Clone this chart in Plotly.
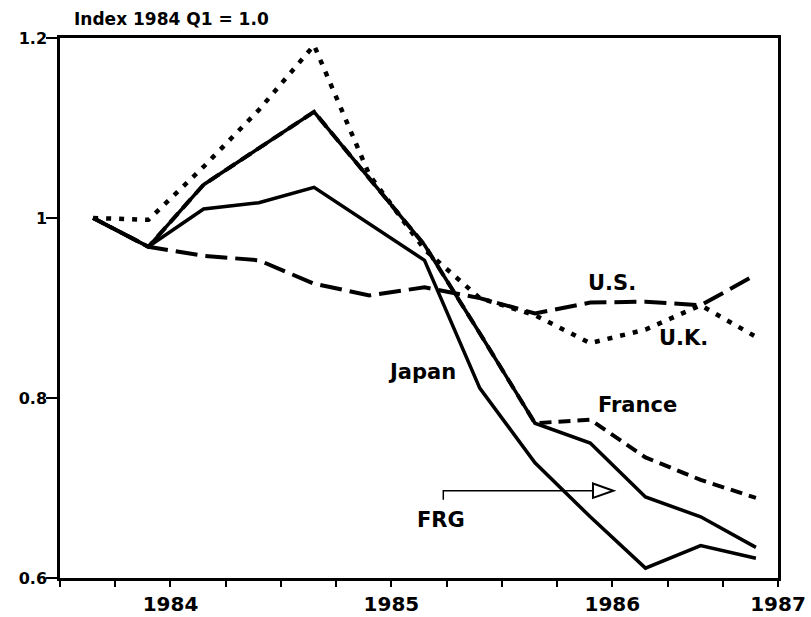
import plotly.graph_objects as go

# ---- data (index, 1984 Q1 = 1.0) ----
quarters = ["1984 Q1", "1984 Q2", "1984 Q3", "1984 Q4",
            "1985 Q1", "1985 Q2", "1985 Q3", "1985 Q4",
            "1986 Q1", "1986 Q2", "1986 Q3", "1986 Q4", "1987 Q1"]
us     = [1.000, 0.968, 0.958, 0.953, 0.927, 0.914, 0.923, 0.911, 0.894, 0.906, 0.907, 0.903, 0.937]
uk     = [1.000, 0.998, 1.057, 1.120, 1.192, 1.048, 0.965, 0.911, 0.892, 0.861, 0.876, 0.903, 0.868]
japan  = [1.000, 0.968, 1.010, 1.017, 1.034, 0.993, 0.953, 0.811, 0.728, 0.668, 0.611, 0.636, 0.622]
france = [1.000, 0.968, 1.037, 1.077, 1.118, 1.044, 0.970, 0.872, 0.772, 0.776, 0.734, 0.709, 0.689]
frg    = [1.000, 0.968, 1.037, 1.077, 1.118, 1.044, 0.970, 0.872, 0.772, 0.750, 0.690, 0.668, 0.634]

year_labels = ["1984", "1985", "1986", "1987"]
year_tick_index = [2, 6, 10, 13]          # which quarter boundary tick carries a year label
y_ticks = [0.6, 0.8, 1.0, 1.2]
y_tick_text = ["0.6", "0.8", "1", "1.2"]

x = list(range(len(quarters)))
offset = 0.6                               # quarter boundary ticks sit 0.6 before each point
n_ticks = len(quarters) + 1
tickvals = [k - offset for k in range(n_ticks)]
ticktext = [""] * n_ticks
for lab, k in zip(year_labels, year_tick_index):
    ticktext[k] = lab

FONT = "DejaVu Sans"
fig = go.Figure()

def add(name, vals, dash, width):
    fig.add_trace(go.Scatter(x=x, y=vals, mode="lines", name=name,
                             line=dict(color="black", width=width, dash=dash),
                             hoverinfo="skip"))

add("France", france, "12px,7px", 4)
add("FRG", frg, "solid", 3.5)
add("U.S.", us, "22px,8px", 4)
add("U.K.", uk, "5px,8px", 4.5)
add("Japan", japan, "solid", 3.5)

labels = [("U.S.", 9.40, 0.928), ("U.K.", 10.68, 0.867), ("Japan", 5.96, 0.829),
          ("France", 9.85, 0.792), ("FRG", 6.30, 0.664)]
for txt, lx, ly in labels:
    fig.add_annotation(x=lx, y=ly, xref="x", yref="y", text=txt, showarrow=False,
                       font=dict(family=FONT, size=21, color="black", weight="bold"),
                       xanchor="center", yanchor="middle")

# FRG pointer arrow
fig.add_shape(type="path", xref="x", yref="y",
              path="M 6.34 0.687 L 6.34 0.697 L 9.05 0.697",
              line=dict(color="black", width=1.5))
fig.add_shape(type="path", xref="x", yref="y",
              path="M 9.05 0.705 L 9.42 0.697 L 9.05 0.689 Z",
              fillcolor="white", line=dict(color="black", width=2))

fig.add_annotation(x=0.017, y=1.035, xref="paper", yref="paper",
                   text="Index 1984 Q1 = 1.0", showarrow=False,
                   font=dict(family=FONT, size=17, color="black", weight="bold"),
                   xanchor="left", yanchor="middle")

fig.update_layout(
    width=811, height=617,
    margin=dict(l=60, r=33, t=38, b=39, autoexpand=False),
    paper_bgcolor="white", plot_bgcolor="white",
    showlegend=False,
    xaxis=dict(range=[-offset, len(quarters) - offset], tickmode="array",
               tickvals=tickvals, ticktext=ticktext, ticks="outside",
               ticklen=6, tickwidth=2, tickcolor="black", automargin=False,
               showline=True, linecolor="black", linewidth=2.5, mirror=True,
               showgrid=False, zeroline=False, ticklabelstandoff=0,
               tickfont=dict(family=FONT, size=20, color="black", weight="bold")),
    yaxis=dict(range=[0.6, 1.2], tickmode="array", tickvals=y_ticks,
               ticktext=y_tick_text, ticks="outside", ticklen=11, tickwidth=2,
               tickcolor="black", showline=True, linecolor="black", linewidth=2.5,
               mirror=True, showgrid=False, zeroline=False, ticklabelstandoff=-4,
               automargin=False,
               tickfont=dict(family=FONT, size=16, color="black", weight="bold")),
)

fig.write_html("out.html", config={"displayModeBar": False},
               post_script="document.body.style.margin='0';document.body.style.overflow='hidden';")
